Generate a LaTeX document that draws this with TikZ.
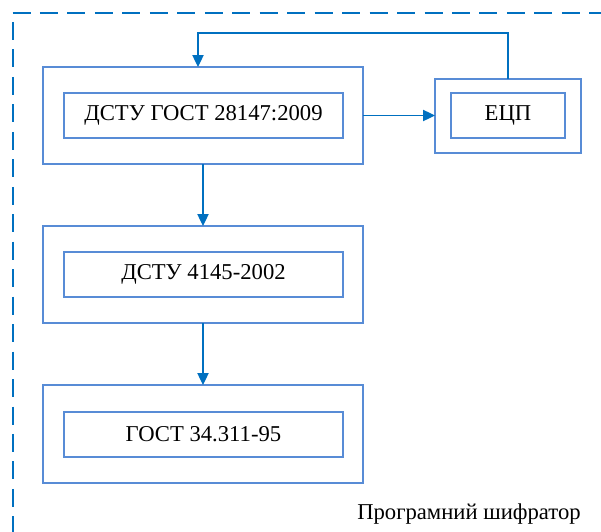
\documentclass[tikz,border=0pt]{standalone}
\usepackage{fontspec}
\setmainfont{Liberation Serif}
\usetikzlibrary{arrows.meta}
\definecolor{boxblue}{RGB}{88,140,214}
\definecolor{linkblue}{RGB}{0,112,192}
\def\pxu{0.75pt}
\begin{document}
\begin{tikzpicture}[x=0.75pt,y=-0.75pt,
  outerbox/.style={draw=boxblue, line width=1.6pt, inner sep=0pt, outer sep=0pt},
  innerbox/.style={draw=boxblue, line width=1.6pt, inner sep=0pt, outer sep=0pt,
    font=\fontsize{17}{20}\selectfont},
  frameline/.style={draw=linkblue, line width=1.5pt, dash pattern=on 13.5pt off 7.1pt},
  link/.style={draw=linkblue, line width=0.9pt, -{Triangle[length=9pt,width=8.5pt]}}]
\useasboundingbox (0,0) rectangle (601,532);

% dashed frame of the software encoder
\coordinate (fc) at (12.5,12.5);
\coordinate (fr) at (620,12.5);
\coordinate (fb) at (12.5,560);
\draw[frameline] (fc) -- (fr);
\draw[frameline, dash phase=13.5pt] (fc) -- (fb);

% standards blocks
\node[outerbox, minimum width=320*\pxu, minimum height=97*\pxu] (b1o) at (203,115.5) {};
\node[innerbox, minimum width=279*\pxu, minimum height=45*\pxu] (b1i) at (203.5,115.5) {ДСТУ ГОСТ 28147:2009};

\node[outerbox, minimum width=146*\pxu, minimum height=74*\pxu] (eo) at (508,116) {};
\node[innerbox, minimum width=114*\pxu, minimum height=45*\pxu] (ei) at (508,115.5) {ЕЦП};

\node[outerbox, minimum width=320*\pxu, minimum height=97*\pxu] (b2o) at (203,274.5) {};
\node[innerbox, minimum width=279*\pxu, minimum height=45*\pxu] (b2i) at (203.5,274.5) {ДСТУ 4145-2002};

\node[outerbox, minimum width=320*\pxu, minimum height=98*\pxu] (b3o) at (203,434) {};
\node[innerbox, minimum width=279*\pxu, minimum height=45*\pxu] (b3i) at (203.5,434.5) {ГОСТ 34.311-95};

% connectors
\coordinate (fbk) at (198,33);
\draw[link] (b1o.east) -- (b1o.east -| eo.west);
\draw[link] (eo.north) |- (fbk) -- (fbk |- b1o.north);
\draw[link] (b1o.south) -- (b2o.north);
\draw[link] (b2o.south) -- (b3o.north);

% caption
\node[anchor=base west, inner sep=0pt, font=\fontsize{17}{20}\selectfont] (cap) at (357,519) {Програмний шифратор};
\end{tikzpicture}
\end{document}
